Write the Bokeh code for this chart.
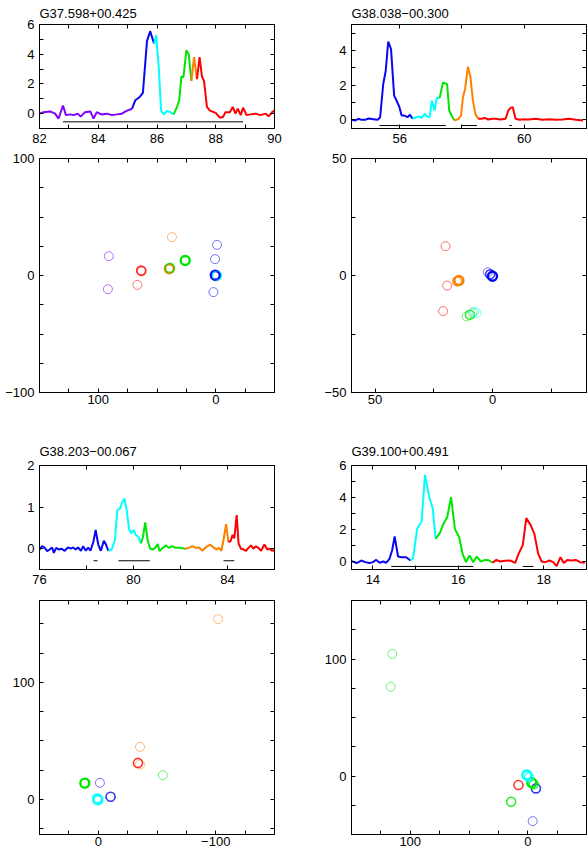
from bokeh.plotting import figure
from bokeh.models import (FixedTicker, LinearAxis, Range1d, CustomJSTickFormatter,
                          ColumnDataSource)
from bokeh.layouts import column, row
from bokeh.embed import file_html
from bokeh.resources import INLINE

FONT = "Liberation Sans"
COLORS = {"purple": "#8000ff", "blue": "#0808f0", "cyan": "#00ffff",
          "green": "#00e600", "orange": "#ff8000", "red": "#ff0000"}

titles = ["G37.598+00.425", "G38.038\u221200.300", "G38.203\u221200.067", "G39.100+00.491"]

# ---------------- spectra ----------------
spec1_vel = [82.0, 82.14, 82.27, 82.36, 82.53, 82.65, 82.8, 82.9, 83.05, 83.16, 83.3, 83.4,
             83.55, 83.73, 83.84, 83.95, 84.1, 84.3, 84.47, 84.64, 84.8, 84.98, 85.15, 85.26,
             85.4, 85.52, 85.66, 85.77, 85.9, 85.97, 86.06, 86.14, 86.23, 86.34, 86.45, 86.57,
             86.68, 86.76, 86.83, 86.9, 87.0, 87.08, 87.17, 87.26, 87.36, 87.45, 87.53, 87.6,
             87.7, 87.8, 88.0, 88.14, 88.25, 88.33, 88.48, 88.58, 88.67, 88.75, 88.85, 88.93,
             89.05, 89.18, 89.35, 89.52, 89.7, 89.8, 89.92, 90.0]
spec1_flux = [0.0, 0.1, 0.12, 0.15, 0.0, -0.33, 0.55, -0.1, -0.05, -0.1, 0.0, -0.2,
              0.1, 0.15, -0.33, 0.1, -0.05, 0.0, -0.1, -0.05, 0.0, 0.2, 0.33, 0.9,
              1.1, 1.4, 4.9, 5.55, 4.7, 5.27, 3.1, 0.2, -0.05, 0.18, 0.1, -0.05,
              0.45, 0.93, 2.5, 2.45, 4.27, 4.0, 2.2, 3.8, 2.33, 3.8, 2.5, 2.2,
              0.45, 0.2, 0.05, -0.27, -0.22, 0.1, 0.1, 0.45, 0.0, 0.33, -0.1, 0.4,
              -0.1, -0.05, 0.0, -0.1, 0.0, -0.18, 0.1, 0.2]
spec1_comps = ["purple", "blue", "cyan", "green", "orange", "red"]
spec1_edges = [85.15, 85.9, 86.57, 87.17, 87.36]
spec1_bar_lo = [82.8]
spec1_bar_hi = [88.93]
spec1_bar_level = -0.55

spec2_vel = [54.47, 54.56, 54.67, 54.77, 54.88, 55.0, 55.15, 55.29, 55.37, 55.47, 55.55, 55.63,
             55.72, 55.82, 55.9, 55.99, 56.06, 56.15, 56.25, 56.33, 56.41, 56.52, 56.62, 56.71,
             56.8, 56.87, 56.96, 57.03, 57.12, 57.19, 57.28, 57.39, 57.46, 57.52, 57.59, 57.68,
             57.76, 57.89, 57.97, 58.03, 58.1, 58.19, 58.27, 58.35, 58.43, 58.52, 58.62, 58.73,
             58.84, 58.97, 59.08, 59.24, 59.4, 59.49, 59.56, 59.63, 59.72, 59.85, 59.99, 60.15,
             60.37, 60.58, 60.8, 61.01, 61.23, 61.44, 61.66, 61.89]
spec2_flux = [0.0, -0.04, 0.06, 0.0, 0.0, 0.08, 0.04, 0.0, 0.15, 2.07, 2.83, 4.52,
              4.08, 1.4, 1.1, 0.73, 0.25, 0.25, 0.15, 0.29, 0.06, 0.15, 0.19, 0.11,
              0.34, 0.21, 0.15, 1.11, 0.54, 1.26, 1.26, 2.16, 2.1, 2.07, 0.54, 0.19,
              -0.04, 0.06, 0.25, 1.3, 1.78, 3.06, 2.49, 1.11, 0.34, 0.06, 0.06, 0.11,
              0.02, 0.06, 0.06, 0.02, 0.06, 0.54, 0.69, 0.73, 0.06, 0.0, 0.04, 0.02,
              0.06, 0.0, 0.04, 0.0, 0.02, 0.06, 0.0, -0.04]
spec2_comps = ["blue", "cyan", "green", "orange", "red"]
spec2_edges = [56.41, 57.28, 57.76, 58.52]
spec2_bar_lo = [55.35, 57.97, 59.52]
spec2_bar_hi = [57.48, 58.48, 59.6]
spec2_bar_level = -0.33

spec3_vel = [76.0, 76.11, 76.21, 76.33, 76.43, 76.54, 76.61, 76.71, 76.83, 76.93, 77.07, 77.21,
             77.33, 77.43, 77.54, 77.64, 77.76, 77.86, 77.97, 78.07, 78.17, 78.29, 78.39, 78.5,
             78.61, 78.74, 78.83, 78.93, 79.07, 79.21, 79.31, 79.43, 79.5, 79.61, 79.71, 79.81,
             79.9, 80.0, 80.1, 80.21, 80.31, 80.4, 80.5, 80.6, 80.71, 80.83, 80.93, 81.03,
             81.11, 81.24, 81.39, 81.5, 81.64, 81.79, 82.0, 82.19, 82.36, 82.5, 82.64, 82.79,
             82.93, 83.07, 83.26, 83.4, 83.54, 83.64, 83.74, 83.83, 83.94, 84.04, 84.14, 84.21,
             84.29, 84.39, 84.47, 84.57, 84.69, 84.79, 84.89, 85.0, 85.1, 85.21, 85.31, 85.43,
             85.57, 85.69, 85.79, 85.9, 86.0]
spec3_flux = [-0.02, 0.06, 0.03, -0.06, -0.02, 0.03, -0.1, 0.02, -0.02, 0.0, -0.05, 0.03,
              0.0, 0.03, -0.02, 0.03, -0.05, 0.06, -0.05, 0.03, -0.05, 0.16, 0.45, 0.1,
              -0.05, 0.19, 0.1, -0.05, -0.02, 0.21, 0.93, 0.97, 1.09, 1.21, 0.93, 0.48,
              0.37, 0.45, 0.33, 0.29, 0.13, 0.27, 0.63, 0.21, 0.0, -0.02, 0.03, 0.11,
              -0.06, 0.02, 0.08, 0.02, 0.06, 0.02, 0.02, 0.0, 0.02, 0.06, 0.02, 0.03,
              -0.05, 0.03, 0.1, 0.03, -0.02, 0.02, -0.05, 0.21, 0.59, 0.16, 0.19, 0.33,
              0.25, 0.81, 0.13, 0.0, -0.02, -0.05, 0.02, 0.08, 0.0, 0.06, 0.02, -0.05,
              0.1, -0.02, 0.0, -0.05, -0.03]
spec3_comps = ["blue", "cyan", "green", "orange", "red"]
spec3_edges = [78.93, 80.31, 82.19, 84.04]
spec3_bar_lo = [78.3, 79.36, 83.83]
spec3_bar_hi = [78.47, 80.69, 84.29]
spec3_bar_level = -0.29

spec4_vel = [13.47, 13.53, 13.62, 13.73, 13.82, 13.92, 14.0, 14.08, 14.16, 14.24, 14.31, 14.39,
             14.45, 14.51, 14.59, 14.67, 14.78, 14.88, 14.94, 15.04, 15.14, 15.22, 15.32, 15.4,
             15.47, 15.57, 15.65, 15.74, 15.83, 15.92, 16.02, 16.1, 16.18, 16.26, 16.35, 16.43,
             16.53, 16.63, 16.71, 16.8, 16.89, 16.98, 17.1, 17.22, 17.33, 17.41, 17.51, 17.59,
             17.69, 17.78, 17.87, 17.95, 18.04, 18.13, 18.22, 18.3, 18.39, 18.47, 18.55, 18.64,
             18.75, 18.85, 18.96]
spec4_flux = [0.0, 0.0, -0.1, 0.06, -0.04, -0.1, -0.04, 0.1, -0.08, 0.0, -0.08, 0.17,
              0.69, 1.56, 0.31, 0.27, 0.27, 0.06, 0.21, 2.08, 2.5, 5.42, 4.02, 3.33,
              1.42, 1.79, 2.35, 2.77, 4.02, 2.04, 1.52, 0.48, -0.04, 0.38, -0.04, 0.31,
              0.0, 0.1, 0.08, -0.08, 0.1, 0.0, 0.04, 0.06, -0.08, 0.48, 1.04, 2.71,
              2.29, 1.73, 0.48, 0.0, -0.04, 0.06, -0.04, -0.29, 0.27, -0.1, 0.1, 0.06,
              0.1, -0.04, -0.08]
spec4_comps = ["blue", "cyan", "green", "red"]
spec4_edges = [14.88, 15.47, 16.8]
spec4_bar_lo = [14.43, 17.51]
spec4_bar_hi = [16.35, 17.76]
spec4_bar_level = -0.31

# axis ranges and ticks of the spectra
spec1_xr, spec1_yr = (82, 90), (-1, 6)
spec1_xt, spec1_xm, spec1_yt, spec1_ym = [82, 84, 86, 88, 90], [83, 85, 87, 89], [0, 2, 4, 6], [1, 3, 5]
spec2_xr, spec2_yr = (54.45, 62), (-0.5, 5.5)
spec2_xt, spec2_xm, spec2_yt, spec2_ym = [56, 60], [58], [0, 2, 4], [1, 3, 5]
spec3_xr, spec3_yr = (76, 86), (-0.5, 2)
spec3_xt, spec3_xm, spec3_yt, spec3_ym = [76, 80, 84], [78, 82, 86], [0, 1, 2], []
spec4_xr, spec4_yr = (13.5, 19), (-0.5, 6)
spec4_xt, spec4_xm, spec4_yt, spec4_ym = [14, 16, 18], [15, 17], [0, 2, 4, 6], [1, 3, 5]

# ---------------- offset maps ----------------
map1_x = [91, 91.8, 63.5, 63.0, 66.7, 37.3, 39.5, 39.0, 26, -1.1, 0.6, 0, -1.0, 0.8, 2]
map1_y = [16.5, -11.7, 4.2, 3.5, -8, 32.8, 5.7, 6.5, 12.8, 26.2, 14, 0, 0, 0.5, -14.2]
map1_comp = ["purple", "purple", "red", "red", "red", "orange", "orange", "green", "green",
             "blue", "blue", "blue", "cyan", "blue", "blue"]
map1_weight = [1, 1, 2, 1, 1, 1, 3, 2, 3, 1, 1, 3, 2, 2, 1]
map1_xr, map1_yr = (150, -50), (-100, 100)
map1_xt, map1_xm = [100, 0], [125, 75, 50, 25, -25]
map1_yt, map1_ym = [100, 0, -100], [75, 50, 25, -25, -50, -75]

map2_x = [20, 19.3, 21, 15, 14.3, 11, 9.6, 8.5, 7.8, 6.8, 2, 1, 0]
map2_y = [12.5, -4.3, -15.2, -2.5, -2.1, -17.5, -16.8, -16, -15.5, -16, 1.4, 0.5, -0.3]
map2_comp = ["red", "red", "red", "orange", "orange", "green", "green", "green", "cyan", "cyan",
             "blue", "blue", "blue"]
map2_weight = [1, 1, 1, 2, 3, 1, 2, 1, 1, 1, 1, 2, 3]
map2_xr, map2_yr = (60, -40), (-50, 50)
map2_xt, map2_xm = [50, 0], [25, -25]
map2_yt, map2_ym = [50, 0, -50], [25, -25]

map3_x = [-102, -35.5, -35.5, -33.8, -55, 11.4, -1.4, -10.5, 1.0, 0.3]
map3_y = [154, 44.9, 29.8, 31.2, 20.7, 13.9, 14.2, 2.3, 1.0, -0.3]
map3_comp = ["orange", "orange", "orange", "red", "green", "green", "blue", "blue", "cyan", "cyan"]
map3_weight = [1, 1, 1, 2, 1, 3, 1, 2, 2, 3]
map3_xr, map3_yr = (50, -150), (-30, 170)
map3_xt, map3_xm = [0, -100], [25, -25, -50, -75, -125]
map3_yt, map3_ym = [100, 0], [150, 125, 75, 50, 25, -25]

map4_x = [115.3, 116.7, -4.2, 14.1, 7.9, -7, -5, -3.4, -1, 0.8]
map4_y = [104.3, 76.3, -38.6, -22, -7.7, -10.6, -7, -5.7, -1, 0.9]
map4_comp = ["green", "green", "blue", "green", "red", "blue", "green", "green", "cyan", "cyan"]
map4_weight = [1, 1, 1, 2, 2, 2, 2, 3, 2, 3]
map4_xr, map4_yr = (150, -50), (-50, 150)
map4_xt, map4_xm = [100, 0], [125, 75, 50, 25, -25]
map4_yt, map4_ym = [100, 0], [125, 75, 50, 25, -25]

# ---------------- helpers ----------------
MINUS = CustomJSTickFormatter(code="return String(tick).replace('-', '\\u2212');")
FSIZE = "13px"


def style_axis(ax, ticks, minor, labels, standoff=4):
    ax.ticker = FixedTicker(ticks=ticks, minor_ticks=minor)
    ax.major_tick_in = 4
    ax.major_tick_out = 0
    ax.minor_tick_in = 4
    ax.minor_tick_out = 0
    ax.axis_line_color = "black"
    ax.major_tick_line_color = "black"
    ax.minor_tick_line_color = "black"
    if labels:
        ax.formatter = MINUS
        ax.major_label_text_font = FONT
        ax.major_label_text_font_size = FSIZE
        ax.major_label_text_color = "black"
        ax.major_label_standoff = standoff
    else:
        ax.major_label_text_font_size = "1px"
        ax.major_label_text_color = None
        ax.major_label_standoff = 0


def base_fig(w, h, xr, yr, bl, br, bt, bb, xt, xm, yt, ym, xstand):
    p = figure(width=w, height=h, x_range=Range1d(*xr), y_range=Range1d(*yr),
               output_backend="svg", toolbar_location=None,
               min_border_left=bl, min_border_right=br, min_border_top=bt, min_border_bottom=bb)
    p.xgrid.grid_line_color = None
    p.ygrid.grid_line_color = None
    p.outline_line_color = "black"
    p.outline_line_width = 1
    style_axis(p.xaxis[0], xt, xm, True, xstand)
    style_axis(p.yaxis[0], yt, ym, True, 5)
    top = LinearAxis()
    style_axis(top, xt, xm, False)
    p.add_layout(top, "above")
    right = LinearAxis()
    style_axis(right, yt, ym, False)
    p.add_layout(right, "right")
    return p


def spectrum(vel, flux, comps, edges, bar_lo, bar_hi, bar_level, xr, yr, xt, xm, yt, ym,
             title, w, h, bl, br, bt, bb, title_gap):
    p = base_fig(w, h, xr, yr, bl, br, bt, bb, xt, xm, yt, ym, 5)
    p.title.text = title
    p.title.align = "left"
    p.title.text_font = FONT
    p.title.text_font_size = FSIZE
    p.title.text_font_style = "normal"
    p.title.text_color = "black"
    p.title.standoff = title_gap
    p.title.offset = 0
    bounds = [min(vel)] + list(edges) + [max(vel)]
    for i, c in enumerate(comps):
        lo, hi = bounds[i], bounds[i + 1]
        xs = [v for v in vel if lo <= v <= hi]
        ys = [f for v, f in zip(vel, flux) if lo <= v <= hi]
        p.line(xs, ys, line_color=COLORS[c], line_width=2)
    p.segment(x0=bar_lo, y0=[bar_level] * len(bar_lo), x1=bar_hi, y1=[bar_level] * len(bar_lo),
              line_color="black", line_width=1)
    return p


WIDTH = {1: 1.0, 2: 1.6, 3: 2.4}
ALPHA = {1: 0.55, 2: 0.8, 3: 1.0}


def offmap(xs, ys, comp, weight, xr, yr, xt, xm, yt, ym, w, h, bl, br, bt, bb):
    p = base_fig(w, h, xr, yr, bl, br, bt, bb, xt, xm, yt, ym, 2)
    src = ColumnDataSource(dict(x=xs, y=ys,
                                color=[COLORS[c] for c in comp],
                                lw=[WIDTH[k] for k in weight],
                                la=[ALPHA[k] for k in weight]))
    p.scatter("x", "y", source=src, marker="circle", size=9, fill_color=None,
              line_color="color", line_width="lw", line_alpha="la")
    return p


# left column: 39 | 235 | 20 ; right column: 57 | 235 | 2
LW, LB, LR = 294, 39, 20
RW, RB, RR = 294, 57, 2

s1 = spectrum(spec1_vel, spec1_flux, spec1_comps, spec1_edges, spec1_bar_lo, spec1_bar_hi,
              spec1_bar_level, spec1_xr, spec1_yr, spec1_xt, spec1_xm, spec1_yt, spec1_ym,
              titles[0], LW, 150, LB, LR, 23, 22, 7)
m1 = offmap(map1_x, map1_y, map1_comp, map1_weight, map1_xr, map1_yr, map1_xt, map1_xm,
            map1_yt, map1_ym, LW, 260, LB, LR, 8, 18)
s3 = spectrum(spec3_vel, spec3_flux, spec3_comps, spec3_edges, spec3_bar_lo, spec3_bar_hi,
              spec3_bar_level, spec3_xr, spec3_yr, spec3_xt, spec3_xm, spec3_yt, spec3_ym,
              titles[2], LW, 181, LB, LR, 55, 22, 13)
m3 = offmap(map3_x, map3_y, map3_comp, map3_weight, map3_xr, map3_yr, map3_xt, map3_xm,
            map3_yt, map3_ym, LW, 259, LB, LR, 9, 16)

s2 = spectrum(spec2_vel, spec2_flux, spec2_comps, spec2_edges, spec2_bar_lo, spec2_bar_hi,
              spec2_bar_level, spec2_xr, spec2_yr, spec2_xt, spec2_xm, spec2_yt, spec2_ym,
              titles[1], RW, 150, RB, RR, 23, 22, 7)
m2 = offmap(map2_x, map2_y, map2_comp, map2_weight, map2_xr, map2_yr, map2_xt, map2_xm,
            map2_yt, map2_ym, RW, 260, RB, RR, 8, 18)
s4 = spectrum(spec4_vel, spec4_flux, spec4_comps, spec4_edges, spec4_bar_lo, spec4_bar_hi,
              spec4_bar_level, spec4_xr, spec4_yr, spec4_xt, spec4_xm, spec4_yt, spec4_ym,
              titles[3], RW, 181, RB, RR, 55, 22, 13)
m4 = offmap(map4_x, map4_y, map4_comp, map4_weight, map4_xr, map4_yr, map4_xt, map4_xm,
            map4_yt, map4_ym, RW, 259, RB, RR, 9, 16)

layout = row(column(s1, m1, s3, m3), column(s2, m2, s4, m4))

with open("out.html", "w") as f:
    f.write(file_html(layout, INLINE))
